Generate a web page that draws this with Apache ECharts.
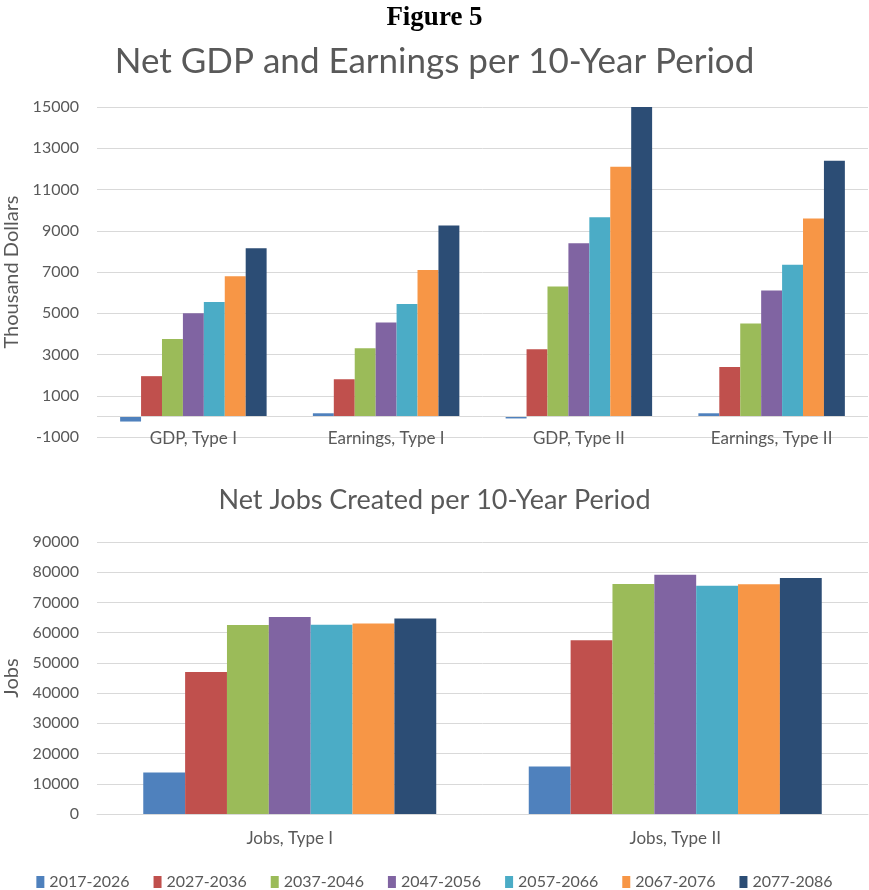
<!DOCTYPE html>
<html lang="en">
<head>
    <meta charset="utf-8">
    <title>Figure 5</title>
    <script src="https://cdn.jsdelivr.net/npm/echarts@6/dist/echarts.min.js"></script>
    <style>
        html, body { margin: 0; padding: 0; background: #fff; }
    </style>
</head>
<body>
<div id="main" style="width:869px;height:890px;"></div>
<script type="text/javascript">
    // periods (legend)
    var periods = ['2017-2026', '2027-2036', '2037-2046', '2047-2056', '2057-2066', '2067-2076', '2077-2086'];
    var colors = ['#4f81bd', '#c0504d', '#9bbb59', '#8064a2', '#4bacc6', '#f79646', '#2c4d75'];

    // top chart: thousand dollars, one array per category
    var moneyCats = ['GDP, Type I', 'Earnings, Type I', 'GDP, Type II', 'Earnings, Type II'];
    var gdpType1 = [-250, 1950, 3750, 5000, 5550, 6800, 8150];
    var earnType1 = [150, 1800, 3300, 4550, 5450, 7100, 9250];
    var gdpType2 = [-100, 3250, 6300, 8400, 9650, 12100, 15000];
    var earnType2 = [150, 2400, 4500, 6100, 7350, 9600, 12400];

    // bottom chart: jobs
    var jobCats = ['Jobs, Type I', 'Jobs, Type II'];
    var jobsType1 = [13700, 47000, 62500, 65200, 62600, 63000, 64700];
    var jobsType2 = [15700, 57500, 76100, 79200, 75500, 76000, 78100];

    var txt = '#595959';
    var font = 'Lato';

    var series = [];
    for (var i = 0; i < periods.length; i++) {
        var s = {
            name: periods[i],
            type: 'bar',
            xAxisIndex: 0,
            yAxisIndex: 0,
            barGap: '0%',
            barCategoryGap: '24%',
            itemStyle: { color: colors[i] },
            data: [gdpType1[i], earnType1[i], gdpType2[i], earnType2[i]]
        };
        if (i == 0) {
            // Excel draws the horizontal axis at zero
            s.markLine = {
                silent: true,
                symbol: 'none',
                label: { show: false },
                lineStyle: { color: '#d9d9d9', width: 1, type: 'solid' },
                data: [{ yAxis: 0 }]
            };
        }
        series.push(s);
    }
    for (var j = 0; j < periods.length; j++) {
        series.push({
            name: periods[j],
            type: 'bar',
            xAxisIndex: 1,
            yAxisIndex: 1,
            barGap: '0%',
            barCategoryGap: '24%',
            itemStyle: { color: colors[j] },
            data: [jobsType1[j], jobsType2[j]]
        });
    }

    var plain = function (v) { return String(v); };

    var myChart = echarts.init(document.getElementById('main'));
    myChart.setOption({
        backgroundColor: '#ffffff',
        animation: false,
        title: [
            {
                text: 'Figure 5',
                left: 'center',
                top: 0,
                textStyle: { fontFamily: 'Liberation Serif', fontWeight: 'bold', fontSize: 27, color: '#000' }
            },
            {
                text: 'Net GDP and Earnings per 10-Year Period',
                left: 'center',
                top: 39,
                textStyle: { fontFamily: font, fontWeight: 'normal', fontSize: 35, color: txt }
            },
            {
                text: 'Net Jobs Created per 10-Year Period',
                left: 'center',
                top: 482,
                textStyle: { fontFamily: font, fontWeight: 'normal', fontSize: 27, color: txt }
            }
        ],
        legend: {
            data: periods,
            top: 869,
            left: 'center',
            itemWidth: 8,
            itemHeight: 12,
            itemGap: 24,
            icon: 'rect',
            textStyle: { fontFamily: font, fontSize: 16, color: txt }
        },
        grid: [
            { left: 97, right: 1, top: 107, height: 330, outerBoundsMode: 'none' },
            { left: 97, right: 1, top: 542, height: 272, outerBoundsMode: 'none' }
        ],
        xAxis: [
            {
                type: 'category',
                gridIndex: 0,
                data: moneyCats,
                axisLine: { show: false, onZero: false },
                axisTick: { show: false },
                axisLabel: { margin: -7, fontFamily: font, fontSize: 17, color: txt }
            },
            {
                type: 'category',
                gridIndex: 1,
                data: jobCats,
                axisLine: { lineStyle: { color: '#d9d9d9' } },
                axisTick: { show: false },
                axisLabel: { margin: 16, fontFamily: font, fontSize: 17, color: txt }
            }
        ],
        yAxis: [
            {
                type: 'value',
                gridIndex: 0,
                min: -1000,
                max: 15000,
                interval: 2000,
                name: 'Thousand Dollars',
                nameLocation: 'middle',
                nameGap: 74,
                nameTextStyle: { fontFamily: font, fontSize: 20, color: txt },
                axisLine: { show: false },
                axisTick: { show: false },
                axisLabel: { margin: 18, fontFamily: font, fontSize: 16, color: txt, formatter: plain },
                splitLine: { lineStyle: { color: '#d9d9d9' } }
            },
            {
                type: 'value',
                gridIndex: 1,
                min: 0,
                max: 90000,
                interval: 10000,
                name: 'Jobs',
                nameLocation: 'middle',
                nameGap: 74,
                nameTextStyle: { fontFamily: font, fontSize: 20, color: txt },
                axisLine: { show: false },
                axisTick: { show: false },
                axisLabel: { margin: 18, fontFamily: font, fontSize: 16, color: txt, formatter: plain },
                splitLine: { lineStyle: { color: '#d9d9d9' } }
            }
        ],
        series: series
    });
</script>
</body>
</html>
